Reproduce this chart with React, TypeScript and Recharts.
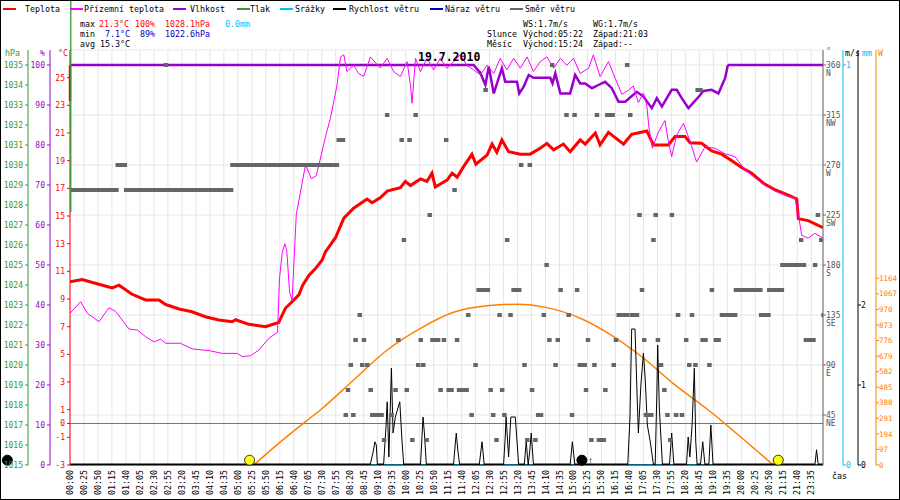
import React from 'react';
import {
  ComposedChart, Line, Scatter, XAxis, YAxis, CartesianGrid, ReferenceLine, ReferenceDot,
} from 'recharts';

const FONT = '"DejaVu Sans Mono", monospace';
const RED = '#ff0000';
const MAGENTA = '#ff00ff';
const PURPLE = '#9900cc';
const GREEN = '#339933';
const CYAN = '#00bfff';
const BLUE = '#0000cc';
const GREY = '#666666';
const ORANGE = '#ff8000';

// x axis: sample index (5-minute samples)
const timeLabels = [
  '00:00', '00:25', '00:50', '01:15', '01:40', '02:05', '02:30', '02:55', '03:20', '03:45',
  '04:10', '04:35', '05:00', '05:25', '05:50', '06:15', '06:40', '07:05', '07:30', '07:55',
  '08:20', '08:45', '09:10', '09:35', '10:00', '10:25', '10:50', '11:15', '11:40', '12:05',
  '12:30', '12:55', '13:20', '13:45', '14:10', '14:35', '15:00', '15:25', '15:50', '16:15',
  '16:40', '17:05', '17:30', '17:55', '18:20', '18:45', '19:10', '19:35', '20:00', '20:25',
  '20:50', '21:15', '21:40', '23:35',
];
const xTicks = timeLabels.map((_, k) => k * 5);
const X_MAX = 269.2;

const pressureTicks = [1015, 1016, 1017, 1018, 1019, 1020, 1021, 1022, 1023, 1024, 1025, 1026, 1027, 1028, 1029, 1030, 1031, 1032, 1033, 1034, 1035];
const humidityTicks = [0, 10, 20, 30, 40, 50, 60, 70, 80, 90, 100];
const tempTicks = [-3, -1, 0, 1, 3, 5, 7, 9, 11, 13, 15, 17, 19, 21, 23, 25];
const dirTicks = [45, 90, 135, 180, 225, 270, 315, 360];
const dirNames = ['NE', 'E', 'SE', 'S', 'SW', 'W', 'NW', 'N'];
const windTicks = [0, 1, 2];
const rainTicks = [0, 1];
const sunTicks = [0, 97, 194, 291, 388, 485, 582, 679, 776, 873, 970, 1067, 1164];

// [sample index, °C]
const temperature: [number, number][] = [
  [0, 10.25], [4.3, 10.4], [10.3, 10.07], [15.1, 9.8], [17.5, 10.0], [22.2, 9.34], [27, 8.93], [31.8, 8.93],
  [34.2, 8.6], [39, 8.28], [43.6, 8.08], [48.4, 7.72], [53.2, 7.48], [58, 7.36], [59.2, 7.5], [63.9, 7.17],
  [69.9, 7.0], [74.6, 7.3], [77.0, 8.33], [79.4, 8.8], [81.8, 9.3], [83.2, 10.0], [85.4, 10.7], [87.75, 11.2],
  [90.1, 11.8], [91.3, 12.4], [94.9, 13.43], [97.9, 14.84], [101.4, 15.56], [106.2, 16.23], [108.0, 15.96],
  [111.0, 16.33], [113.4, 16.8], [118.1, 17.05], [119.9, 17.5], [121.7, 17.2], [125.3, 17.68], [127.6, 17.5],
  [129.4, 18.1], [130.6, 17.1], [134.8, 17.6], [136.6, 18.1], [138.4, 17.8], [140.7, 18.57], [143.7, 19.47],
  [145.1, 18.74], [149.1, 19.4], [150.9, 20.2], [152.6, 19.6], [154.4, 20.5], [156.8, 19.65], [161.0, 19.47],
  [164.5, 19.47], [168.1, 19.9], [170.5, 20.25], [172.9, 19.78], [176.4, 20.2], [178.8, 19.65], [182.4, 20.5],
  [184.2, 20.2], [187.8, 21.0], [189.5, 20.14], [192.5, 21.05], [197.9, 20.2], [200.8, 20.9], [206.2, 21.15],
  [208.6, 20.14], [213.9, 20.14], [216.3, 20.74], [219.9, 20.74], [221.7, 20.3], [225.8, 20.26], [229.4, 19.7],
  [233.0, 19.47], [236.6, 19.0], [240.1, 18.5], [243.7, 18.1], [247.9, 17.37], [252.0, 16.9], [256.8, 16.5],
  [259.8, 16.23], [260.4, 14.8], [263.9, 14.67], [269.2, 14.16],
];

// [sample index, °C]
const groundTemp: [number, number][] = [
  [0, 7.97], [3.8, 8.8], [6.2, 7.97], [10.4, 7.36], [13.9, 8.37], [16.3, 8.1], [21.1, 6.83], [24.1, 6.75],
  [27, 6.28], [30, 5.9], [32.4, 6.1], [34.2, 5.8], [39.5, 5.8], [43.7, 5.39], [49.7, 5.27], [54.4, 5.07],
  [59.8, 5.07], [61.6, 4.83], [64.5, 4.9], [67.5, 5.3], [71.1, 6.16], [74.2, 6.6], [74.9, 10.5], [75.9, 12.4],
  [76.8, 13.0], [77.5, 12.5], [78.5, 9.5], [79.4, 8.9], [80.9, 15.1], [84.2, 18.7], [86.3, 17.7], [88.0, 17.9],
  [89.0, 18.7], [91.3, 20.7], [93.1, 22.07], [95.5, 24.5], [96.7, 26.5], [97.9, 26.65], [99.0, 25.44],
  [101.4, 25.9], [103.2, 25.3], [105.0, 25.1], [107.4, 26.5], [110.9, 25.7], [113.4, 26.4], [115.7, 25.44],
  [118.1, 25.08], [120.5, 26.16], [121.7, 24.5], [122.3, 23.15], [123.5, 26.4], [125.3, 25.44], [127.6, 26.4],
  [130.0, 25.56], [132.4, 26.4], [134.8, 25.68], [137.1, 26.16], [139.5, 26.65], [141.9, 25.9], [144.3, 25.56],
  [146.7, 25.2], [149.1, 25.9], [151.5, 25.3], [153.8, 26.4], [156.2, 25.56], [158.6, 26.4], [161.0, 25.68],
  [163.4, 26.5], [165.7, 25.44], [168.1, 26.16], [170.5, 26.5], [172.9, 25.68], [175.3, 26.4], [177.6, 25.9],
  [180.0, 26.4], [182.4, 25.3], [185.4, 25.68], [187.1, 26.65], [189.5, 25.08], [192.5, 26.16], [194.9, 24.96],
  [197.3, 23.8], [199.7, 24.1], [201.4, 24.4], [203.2, 23.2], [205.0, 23.9], [206.2, 23.0], [207.0, 21.35],
  [208.2, 19.9], [210.4, 21.1], [212.7, 21.9], [213.9, 20.4], [215.1, 19.3], [216.9, 20.85], [219.3, 21.7],
  [221.7, 20.4], [224.0, 18.9], [227.0, 20.0], [230.6, 19.9], [234.2, 19.5], [237.7, 19.3], [241.3, 18.35],
  [244.9, 17.75], [248.5, 17.2], [252.0, 16.8], [256.8, 16.4], [259.2, 16.3], [260.4, 15.1], [261.6, 13.6],
  [263.9, 13.4], [266.3, 13.75], [269.2, 13.4],
];

// [sample index, %]
const humidity: [number, number][] = [
  [0, 100], [144.3, 100], [146.7, 98], [148.5, 95], [149.7, 99.6], [151.5, 92.9], [154.4, 99.2], [155.6, 95.8],
  [159.8, 95.8], [160.6, 92.9], [162.2, 94.6], [164, 97.5], [165.7, 96.8], [171.7, 96.8], [172.5, 95.4],
  [173.5, 97.9], [175.3, 92.9], [178.8, 92.9], [180.6, 97.5], [182.4, 95.4], [184.2, 95.4], [186.6, 94.2],
  [188.9, 95], [191.3, 95.8], [193.7, 94.2], [196.1, 90.8], [198.5, 90.8], [202.6, 93.3], [205, 92.1],
  [208, 89.2], [209.8, 91.7], [211.6, 89.6], [215.1, 93.8], [216.9, 93.8], [218.7, 91.7], [221.1, 89.2],
  [225.3, 92.5], [226.4, 93.5], [229.4, 93.8], [231.8, 92.9], [234.2, 96.7], [235.1, 99.7], [235.5, 100], [269.2, 100],
];

// [sample index, W/m2]
const sunshine: [number, number][] = [
  [65.7, 0], [74.6, 135], [84.2, 270], [89.5, 343], [101.4, 530], [113.4, 717], [125.3, 852], [137.1, 952],
  [149.1, 993], [159.8, 1002], [170.5, 981], [182.4, 915], [192.5, 821], [204.4, 675], [216.3, 499],
  [228.2, 343], [240.1, 170], [251.4, 0],
];

// [sample index, m/s]
const windSpeed: [number, number][] = [
  [0, 0], [107.3, 0], [108.3, 0.15], [109.0, 0.29], [109.5, 0.25], [109.9, 0],
  [112.1, 0], [113.0, 0.5], [113.4, 0.79], [114.0, 0.1], [114.9, 1.21], [115.5, 0.4], [116.3, 0.6], [117.9, 0.79], [118.7, 0.3], [119.3, 0],
  [125.3, 0], [125.9, 0.4], [126.2, 0.6], [126.7, 0.4], [127.4, 0],
  [137.1, 0], [137.7, 0.25], [138.1, 0.4], [138.6, 0.2], [139.3, 0],
  [146.3, 0], [147.3, 0.29], [148.1, 0],
  [155.0, 0], [155.6, 0.35], [155.9, 0.6], [156.8, 0.1], [157.6, 0.6], [159.2, 0.6], [159.8, 0.3], [160.4, 0],
  [162.4, 0], [163.1, 0.29], [163.8, 0], [164.3, 0.15], [164.9, 0.4], [165.7, 0],
  [178.8, 0], [179.6, 0.29], [180.5, 0],
  [199.4, 0], [200.2, 0.6], [200.8, 1.7], [202.0, 1.7], [202.8, 0.8], [203.2, 0.4], [204.1, 1.0], [205.0, 1.4],
  [205.6, 1.1], [206.4, 0.5], [207.4, 0.3], [208.6, 0],
  [209.2, 0], [209.8, 0.9], [210.1, 1.5], [210.7, 0.7], [211.8, 0],
  [214.3, 0], [215.1, 0.4], [215.9, 0],
  [220.4, 0], [221.0, 0.35], [221.6, 0.1], [222.4, 0.5], [223.2, 1.21], [223.7, 0.3], [224.2, 0],
  [225.4, 0], [226.2, 0.29], [227.0, 0],
  [228.4, 0], [229.1, 0.5], [229.9, 0],
  [266.3, 0], [266.9, 0.19], [267.5, 0], [269.2, 0],
];

// [sample index, mm]
const rain: [number, number][] = [[0, 0], [269.2, 0]];

// wind direction: continuous runs [from index, to index, degrees] and single samples [index, degrees]
const dirRuns: [number, number, number][] = [
  [0, 16.5, 247.5], [17, 19.5, 270], [20, 33.5, 247.5], [35, 57.5, 247.5], [58, 95.3, 270], [96, 97.5, 292.5],
  [108, 111.3, 45], [129.5, 131.5, 112.5], [135.3, 136.4, 67.5], [139, 141.7, 67.5], [146, 147.9, 157.5],
  [158.5, 160.5, 157.5], [167.3, 168.5, 45], [183, 183.9, 90], [189, 190.7, 22.5], [192, 193.9, 315],
  [196.1, 199.1, 135], [200.8, 202.6, 135], [205.8, 207.7, 45], [224.3, 225.4, 337.5], [226.1, 227.2, 112.5],
  [230.8, 231.8, 112.5], [233, 237.7, 135], [238, 246.7, 157.5], [247, 249.6, 135], [249.9, 254.4, 157.5],
  [254.6, 261, 180], [263, 265.7, 112.5],
];
const dirSingles: [number, number][] = [
  [34.2, 360], [98.5, 45], [99.3, 67.5], [100.3, 90], [101.2, 45], [102, 112.5], [103.5, 135], [104.4, 90],
  [105, 112.5], [106.2, 90], [107.4, 67.5], [112.2, 22.5], [113.3, 315], [114.9, 45], [116.3, 67.5],
  [117.3, 112.5], [118.5, 292.5], [119.3, 202.5], [120.3, 67.5], [121.3, 292.5], [122.3, 22.5], [123.5, 315],
  [124.4, 90], [125.3, 112.5], [126.2, 90], [127.4, 22.5], [128.5, 225], [132.4, 67.5], [133.6, 112.5],
  [134.4, 292.5], [137.4, 247.5], [138.3, 112.5], [142.3, 135], [143.5, 45], [144.9, 90], [148.5, 337.5],
  [149.3, 157.5], [150.3, 67.5], [151.2, 45], [152.4, 22.5], [153.5, 135], [154.4, 67.5], [155.2, 45],
  [156.2, 202.5], [157.4, 135], [161.2, 270], [162.4, 90], [163.4, 22.5], [164.3, 270], [165.1, 67.5],
  [166.3, 22.5], [169.3, 135], [170.3, 180], [171.3, 112.5], [172.3, 360], [173.5, 90], [174.3, 112.5],
  [175.3, 157.5], [177.4, 315], [178.2, 135], [179.4, 45], [180.3, 315], [181.2, 157.5], [182.2, 90],
  [184.4, 67.5], [185.1, 112.5], [186.3, 22.5], [187.4, 90], [188.3, 315], [191.3, 67.5], [194.3, 90],
  [195.1, 112.5], [199.1, 360], [200.2, 315], [203.5, 225], [204.4, 157.5], [205.2, 112.5], [208.5, 202.5],
  [209.3, 225], [210.1, 112.5], [211.2, 90], [212.4, 67.5], [213.5, 45], [214.5, 22.5], [215.1, 225],
  [216.6, 45], [217.3, 135], [218.7, 45], [220.2, 112.5], [221.3, 90], [222.3, 135], [223.5, 90], [228.5, 90],
  [229.4, 157.5], [261.3, 202.5], [262.3, 180], [266.3, 180], [267.3, 225], [268.5, 202.5], [269.3, 135],
];

const sunEvents = [64.2, 253.2]; // sunrise 05:22, sunset 21:03
const moonEvents = [-22.4, 183.0]; // moon markers
const MARKER_LEVEL = 0.06; // m/s, markers sit on the base line

const pressureTrace = { from: 1027.65, to: 1038.25 };
const tempTrace = { from: 23.3, to: 25.9 };

const toData = (pts: [number, number][]) => pts.map(([i, v]) => ({ i, v }));
const temperatureData = toData(temperature);
const groundData = toData(groundTemp);
const humidityData = toData(humidity);
const sunData = toData(sunshine);
const windData = toData(windSpeed);
const calmData = windSpeed.map(([i, v]) => ({ i, v: v === 0 ? 0 : null }));
const rainData = toData(rain);
const dirData: { i: number; d: number }[] = [];
dirRuns.forEach(([s, e, d]) => {
  let i = s;
  for (; i <= e; i += 1) dirData.push({ i, d });
  if (i - 1 < e - 0.2) dirData.push({ i: e, d });
});
dirSingles.forEach(([i, d]) => dirData.push({ i, d }));

const legendLabels = ['Teplota', 'Přízemní teplota', 'Vlhkost', 'Tlak', 'Srážky', 'Rychlost větru', 'Náraz větru', 'Směr větru'];
const legendColors = [RED, MAGENTA, PURPLE, GREEN, CYAN, '#000000', BLUE, GREY];
const legendDashX = [3, 70, 173, 237, 280, 333, 430, 510];
const legendTextX = [25, 84, 190, 250, 295, 349, 445, 525];

function XTick(props: any) {
  const { x, y, payload } = props;
  const label = timeLabels[Math.round(payload.value / 5)];
  return (
    <text transform={`translate(${x},${y + 5}) rotate(-90)`} textAnchor="end" dominantBaseline="central"
      fontSize={8.3} fontFamily={FONT} fill="#000">{label}</text>
  );
}

function DirTick(props: any) {
  const { x, y, payload } = props;
  const k = dirTicks.indexOf(payload.value);
  return (
    <g>
      <text x={x} y={y} textAnchor="start" dominantBaseline="central" fontSize={8} fontFamily={FONT} fill="#555">{payload.value}</text>
      <text x={x} y={y + 8.5} textAnchor="start" dominantBaseline="central" fontSize={8} fontFamily={FONT} fill="#555">{dirNames[k]}</text>
    </g>
  );
}

const DirMark = (p: any) => <rect x={p.cx - 2} y={p.cy - 2} width={4.5} height={4} fill={GREY} />;

function Txt({ x, y, color = '#000', size = 8.3, bold = false, children }: any) {
  return (
    <div style={{
      position: 'absolute', left: x, top: y - size * 0.65, fontFamily: FONT, fontSize: size,
      lineHeight: `${size * 1.3}px`, color, whiteSpace: 'pre', fontWeight: bold ? 700 : 400,
    }}>{children}</div>
  );
}

const axisTick = (color: string, size = 8) => ({ fill: color, fontSize: size, fontFamily: FONT });
const layer: React.CSSProperties = { position: 'absolute', left: 0, top: 0 };

export default function App() {
  return (
    <div style={{ position: 'absolute', left: 0, top: 0, width: 900, height: 500, background: '#fff', overflow: 'hidden' }}>
      <div style={layer}>
        <ComposedChart width={900} height={500} margin={{ top: 50, right: 3, bottom: 5, left: 50 }}>
          <XAxis dataKey="i" type="number" domain={[0, X_MAX]} ticks={xTicks} interval={0} allowDataOverflow
            tick={<XTick />} tickLine={false} tickSize={0} tickMargin={0} height={30} axisLine={{ stroke: '#000' }} />
          <YAxis yAxisId="temp" orientation="left" width={20} type="number" domain={[-3, 27]} ticks={tempTicks}
            interval={0} allowDataOverflow axisLine={{ stroke: RED }} tickLine={{ stroke: RED }} tickSize={3}
            tickMargin={2} tick={axisTick(RED)} />
          <YAxis yAxisId="dir" orientation="right" width={20} type="number" domain={[0, 373.5]} ticks={dirTicks}
            interval={0} allowDataOverflow axisLine={{ stroke: GREY }} tickLine={{ stroke: GREY }} tickSize={3}
            tickMargin={0} tick={<DirTick />} />
          <YAxis yAxisId="ms" orientation="right" width={18} type="number" domain={[0, 5.1875]} ticks={windTicks}
            interval={0} allowDataOverflow axisLine={{ stroke: '#000' }} tickLine={{ stroke: '#000' }} tickSize={3}
            tickMargin={0} tick={axisTick('#000')} />
          <YAxis yAxisId="mm" orientation="right" width={15} type="number" domain={[0, 1.0375]} ticks={rainTicks}
            interval={0} allowDataOverflow axisLine={{ stroke: CYAN }} tickLine={{ stroke: CYAN }} tickSize={3}
            tickMargin={0} tick={axisTick(CYAN)} />
          <YAxis yAxisId="sun" orientation="right" width={21} type="number" domain={[0, 2587]} ticks={sunTicks}
            interval={0} allowDataOverflow axisLine={{ stroke: ORANGE }} tickLine={{ stroke: ORANGE }} tickSize={3}
            tickMargin={0} tick={axisTick(ORANGE, 7.5)} />
          <YAxis yAxisId="hum" orientation="right" hide width={0} type="number" domain={[0, 103.75]} allowDataOverflow />

          <CartesianGrid yAxisId="dir" stroke="#e6e6e6" strokeWidth={1} />
          <ReferenceLine yAxisId="temp" y={0} stroke="#777" strokeWidth={1} />

          <Line data={humidityData} dataKey="v" yAxisId="hum" type="linear" stroke={PURPLE} strokeWidth={2.5}
            dot={false} isAnimationActive={false} />
          <Scatter data={dirData} dataKey="d" yAxisId="dir" shape={DirMark} isAnimationActive={false} />
          <Line data={sunData} dataKey="v" yAxisId="sun" type="monotone" stroke={ORANGE} strokeWidth={1.5}
            dot={false} isAnimationActive={false} />
          <Line data={temperatureData} dataKey="v" yAxisId="temp" type="linear" stroke={RED} strokeWidth={3}
            dot={false} isAnimationActive={false} />
          <Line data={groundData} dataKey="v" yAxisId="temp" type="linear" stroke={MAGENTA} strokeWidth={1}
            dot={false} isAnimationActive={false} />
          <Line data={rainData} dataKey="v" yAxisId="mm" type="linear" stroke={CYAN} strokeWidth={2}
            dot={false} isAnimationActive={false} />
          <Line data={calmData} dataKey="v" yAxisId="ms" type="linear" stroke="#000" strokeWidth={3}
            dot={false} connectNulls={false} isAnimationActive={false} />
          <Line data={windData} dataKey="v" yAxisId="ms" type="linear" stroke="#000" strokeWidth={1}
            dot={false} isAnimationActive={false} />

          <ReferenceLine yAxisId="temp" segment={[{ x: 0, y: tempTrace.from }, { x: 0, y: tempTrace.to }]}
            stroke={RED} strokeWidth={2.5} ifOverflow="visible" />

          {sunEvents.map((x) => (
            <ReferenceDot key={`s${x}`} x={x} y={MARKER_LEVEL} yAxisId="ms" r={5} fill="#ffff00" stroke="#333"
              strokeWidth={1} ifOverflow="visible" />
          ))}
          {moonEvents.map((x, k) => (
            <ReferenceDot key={`m${x}`} x={x} y={MARKER_LEVEL} yAxisId="ms" r={5} fill="#000" stroke="#000"
              ifOverflow="visible"
              label={k === 1 ? { value: '↑', position: 'right', offset: 1, fontSize: 10, fill: '#000' } : undefined} />
          ))}
        </ComposedChart>
      </div>

      {/* humidity axis layer */}
      <div style={layer}>
        <ComposedChart width={900} height={500} margin={{ top: 50, right: 77, bottom: 35, left: 28 }}>
          <XAxis hide dataKey="i" type="number" domain={[0, X_MAX]} allowDataOverflow />
          <YAxis yAxisId="hum" orientation="left" width={22} type="number" domain={[0, 103.75]} ticks={humidityTicks}
            interval={0} allowDataOverflow axisLine={{ stroke: PURPLE }} tickLine={{ stroke: PURPLE }} tickSize={3}
            tickMargin={2} tick={axisTick(PURPLE)} />
        </ComposedChart>
      </div>

      {/* pressure axis layer */}
      <div style={layer}>
        <ComposedChart width={900} height={500} margin={{ top: 50, right: 77, bottom: 35, left: 0 }}>
          <XAxis hide dataKey="i" type="number" domain={[0, X_MAX]} allowDataOverflow />
          <YAxis yAxisId="pres" orientation="left" width={28} type="number" domain={[1015, 1035.75]} ticks={pressureTicks}
            interval={0} allowDataOverflow axisLine={{ stroke: GREEN }} tickLine={{ stroke: GREEN }} tickSize={3}
            tickMargin={2} tick={axisTick(GREEN)} />
        </ComposedChart>
      </div>

      {/* pressure trace: same hPa scale (20 px per hPa), extended up to the picture's top edge */}
      <div style={layer}>
        <ComposedChart width={900} height={500} margin={{ top: 0, right: 3, bottom: 35, left: 70 }}>
          <XAxis hide dataKey="i" type="number" domain={[0, X_MAX]} allowDataOverflow />
          <YAxis hide yAxisId="pres" type="number" domain={[1015, 1038.25]} allowDataOverflow />
          <ReferenceLine yAxisId="pres" segment={[{ x: 0.25, y: pressureTrace.from }, { x: 0.25, y: pressureTrace.to }]}
            stroke={GREEN} strokeWidth={1.3} ifOverflow="visible" />
        </ComposedChart>
      </div>

      {legendLabels.map((lab, k) => (
        <React.Fragment key={lab}>
          <div style={{ position: 'absolute', left: legendDashX[k], top: 8, width: 13, height: 2, background: legendColors[k] }} />
          <Txt x={legendTextX[k]} y={9.5}>{lab}</Txt>
        </React.Fragment>
      ))}

      <Txt x={80} y={24}>max</Txt>
      <Txt x={99} y={24} color={RED}>21.3°C</Txt>
      <Txt x={135} y={24} color={RED}>100%</Txt>
      <Txt x={165} y={24} color={RED}>1028.1hPa</Txt>
      <Txt x={225} y={24} color={CYAN}>0.0mm</Txt>
      <Txt x={80} y={34}>min</Txt>
      <Txt x={105} y={34} color={BLUE}>7.1°C</Txt>
      <Txt x={140} y={34} color={BLUE}>89%</Txt>
      <Txt x={165} y={34} color={BLUE}>1022.6hPa</Txt>
      <Txt x={80} y={44}>avg 15.3°C</Txt>

      <Txt x={523} y={24}>WS:1.7m/s</Txt>
      <Txt x={593} y={24}>WG:1.7m/s</Txt>
      <Txt x={487} y={34}>Slunce</Txt>
      <Txt x={523} y={34}>Východ:05:22</Txt>
      <Txt x={593} y={34}>Západ:21:03</Txt>
      <Txt x={487} y={44}>Měsíc</Txt>
      <Txt x={523} y={44}>Východ:15:24</Txt>
      <Txt x={593} y={44}>Západ:--</Txt>

      <Txt x={5} y={53} color={GREEN}>hPa</Txt>
      <Txt x={40} y={53} color={PURPLE}>%</Txt>
      <Txt x={58} y={53} color={RED}>°C</Txt>
      <Txt x={826} y={51} color={GREY}>°</Txt>
      <Txt x={845} y={53}>m/s</Txt>
      <Txt x={862} y={53} color={CYAN}>mm</Txt>
      <Txt x={878} y={53} color={ORANGE}>W</Txt>
      <Txt x={832} y={476}>čas</Txt>

      <Txt x={418} y={57} size={11.5} bold>19.7.2010</Txt>

      <div style={{ position: 'absolute', left: 0, top: 0, width: 900, height: 500, border: '1px solid #000', boxSizing: 'border-box', pointerEvents: 'none' }} />
    </div>
  );
}
